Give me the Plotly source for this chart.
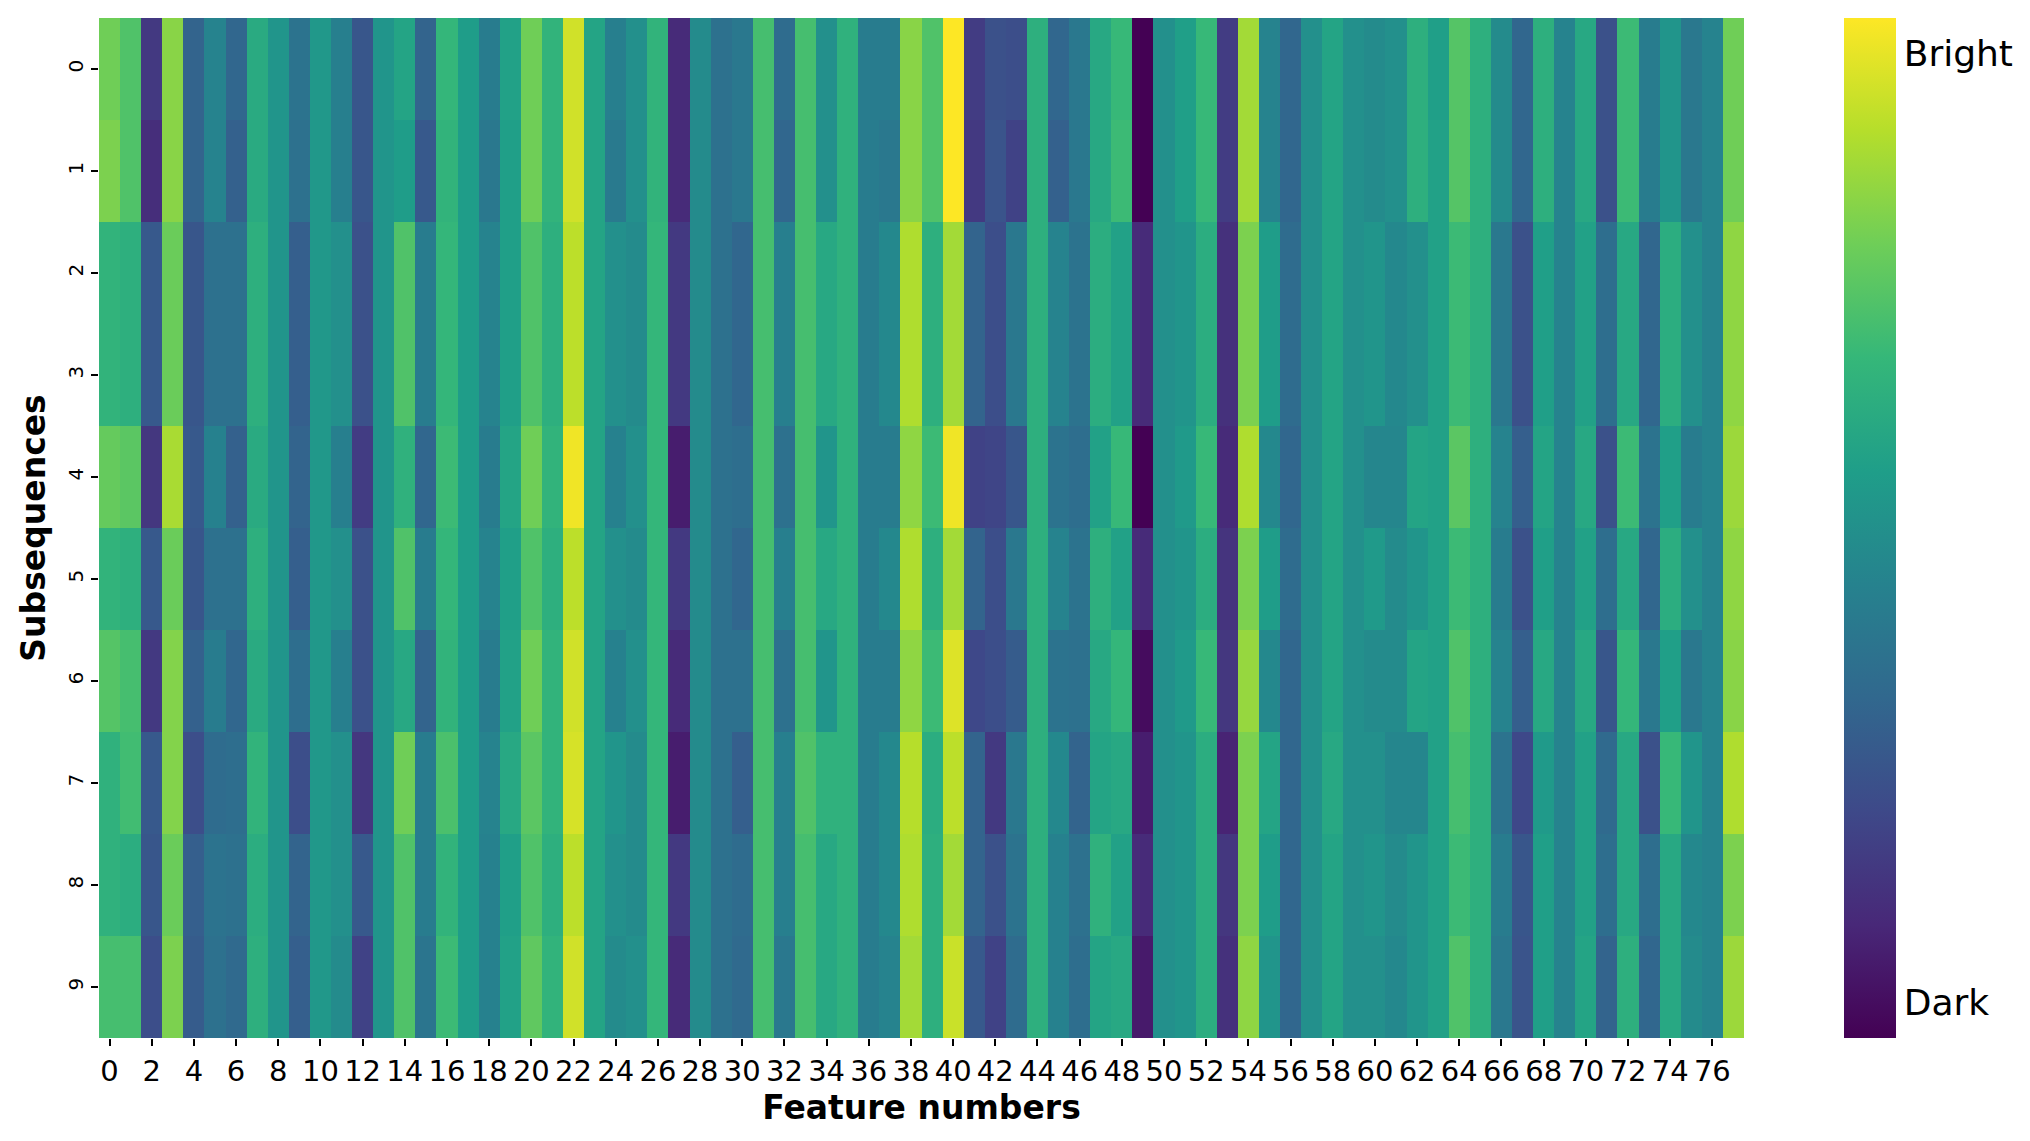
import plotly.graph_objects as go

features = list(range(78))
subsequences = list(range(10))

row_0 = [0.78,0.72,0.17,0.82,0.32,0.45,0.33,0.61,0.52,0.38,0.53,0.43,0.27,0.52,0.58,0.32,0.66,0.55,0.42,0.57,
         0.78,0.65,0.93,0.58,0.43,0.5,0.65,0.12,0.48,0.37,0.4,0.7,0.35,0.7,0.5,0.64,0.42,0.42,0.82,0.72,
         1.0,0.18,0.25,0.24,0.63,0.33,0.4,0.6,0.67,0.0,0.5,0.56,0.67,0.18,0.86,0.45,0.33,0.5,0.58,0.5,
         0.48,0.5,0.63,0.56,0.73,0.63,0.48,0.33,0.63,0.45,0.6,0.25,0.68,0.42,0.52,0.4,0.45,0.78]
row_1 = [0.8,0.72,0.13,0.82,0.32,0.45,0.31,0.61,0.52,0.37,0.53,0.43,0.27,0.52,0.55,0.28,0.65,0.55,0.40,0.56,
         0.78,0.65,0.93,0.58,0.41,0.5,0.65,0.12,0.48,0.37,0.4,0.7,0.33,0.7,0.5,0.64,0.42,0.40,0.82,0.72,
         1.0,0.17,0.26,0.2,0.63,0.31,0.4,0.6,0.68,0.0,0.5,0.56,0.67,0.18,0.86,0.45,0.33,0.5,0.58,0.5,
         0.48,0.5,0.63,0.57,0.73,0.63,0.48,0.33,0.63,0.45,0.6,0.25,0.68,0.42,0.52,0.4,0.45,0.78]
row_2 = [0.65,0.63,0.28,0.77,0.27,0.37,0.37,0.63,0.52,0.30,0.53,0.50,0.25,0.52,0.72,0.42,0.66,0.55,0.45,0.56,
         0.72,0.63,0.9,0.58,0.5,0.48,0.66,0.17,0.48,0.37,0.33,0.7,0.43,0.7,0.6,0.64,0.42,0.47,0.88,0.63,
         0.86,0.32,0.24,0.4,0.63,0.45,0.38,0.62,0.57,0.12,0.5,0.52,0.62,0.14,0.8,0.55,0.35,0.5,0.58,0.5,
         0.52,0.47,0.5,0.57,0.68,0.63,0.4,0.25,0.56,0.45,0.57,0.36,0.6,0.33,0.62,0.5,0.45,0.83]
row_3 = [0.65,0.63,0.28,0.77,0.27,0.37,0.37,0.63,0.52,0.30,0.53,0.50,0.25,0.52,0.72,0.42,0.66,0.55,0.45,0.56,
         0.72,0.63,0.9,0.58,0.5,0.48,0.66,0.17,0.48,0.37,0.33,0.7,0.43,0.7,0.6,0.64,0.42,0.47,0.88,0.63,
         0.86,0.32,0.24,0.4,0.63,0.45,0.38,0.62,0.57,0.12,0.5,0.52,0.62,0.14,0.8,0.55,0.35,0.5,0.58,0.5,
         0.52,0.47,0.5,0.57,0.68,0.63,0.4,0.25,0.56,0.45,0.57,0.36,0.6,0.33,0.62,0.5,0.45,0.83]
row_4 = [0.76,0.74,0.16,0.87,0.28,0.44,0.31,0.61,0.52,0.32,0.53,0.43,0.18,0.52,0.64,0.33,0.68,0.55,0.42,0.58,
         0.78,0.65,0.98,0.58,0.44,0.5,0.66,0.08,0.48,0.37,0.36,0.7,0.37,0.7,0.52,0.64,0.42,0.42,0.83,0.68,
         0.98,0.2,0.21,0.27,0.63,0.38,0.36,0.57,0.67,0.0,0.5,0.54,0.67,0.12,0.88,0.47,0.33,0.5,0.58,0.5,
         0.46,0.46,0.58,0.57,0.74,0.63,0.45,0.3,0.58,0.45,0.6,0.25,0.68,0.38,0.56,0.42,0.45,0.85]
row_5 = [0.65,0.63,0.28,0.77,0.27,0.37,0.37,0.63,0.52,0.30,0.53,0.50,0.25,0.52,0.72,0.42,0.66,0.55,0.45,0.56,
         0.72,0.63,0.9,0.58,0.5,0.48,0.66,0.17,0.48,0.37,0.33,0.7,0.43,0.7,0.6,0.64,0.42,0.47,0.88,0.63,
         0.86,0.32,0.24,0.4,0.63,0.45,0.38,0.63,0.57,0.12,0.5,0.52,0.62,0.15,0.8,0.55,0.35,0.5,0.58,0.5,
         0.54,0.48,0.52,0.57,0.68,0.63,0.42,0.25,0.56,0.45,0.57,0.36,0.6,0.33,0.62,0.5,0.45,0.83]
row_6 = [0.73,0.70,0.17,0.81,0.31,0.42,0.33,0.61,0.52,0.36,0.53,0.43,0.25,0.52,0.6,0.32,0.65,0.55,0.42,0.57,
         0.78,0.65,0.93,0.58,0.44,0.5,0.66,0.12,0.48,0.37,0.37,0.7,0.37,0.7,0.52,0.64,0.42,0.42,0.83,0.68,
         0.95,0.22,0.24,0.29,0.63,0.38,0.37,0.6,0.66,0.03,0.5,0.54,0.67,0.16,0.84,0.47,0.33,0.5,0.58,0.5,
         0.48,0.48,0.58,0.57,0.72,0.63,0.45,0.3,0.6,0.45,0.6,0.27,0.66,0.4,0.56,0.4,0.45,0.82]
row_7 = [0.64,0.69,0.28,0.81,0.24,0.35,0.36,0.65,0.52,0.24,0.53,0.50,0.16,0.52,0.78,0.42,0.71,0.55,0.45,0.6,
         0.74,0.65,0.94,0.58,0.52,0.48,0.66,0.08,0.48,0.37,0.3,0.7,0.43,0.72,0.64,0.64,0.42,0.47,0.89,0.62,
         0.9,0.32,0.17,0.4,0.63,0.47,0.32,0.58,0.6,0.08,0.5,0.52,0.62,0.1,0.8,0.58,0.33,0.5,0.6,0.5,
         0.5,0.46,0.46,0.57,0.7,0.63,0.38,0.22,0.54,0.45,0.57,0.34,0.6,0.25,0.67,0.52,0.45,0.88]
row_8 = [0.64,0.62,0.27,0.77,0.30,0.38,0.37,0.62,0.52,0.32,0.53,0.50,0.28,0.52,0.72,0.42,0.65,0.55,0.44,0.56,
         0.72,0.63,0.9,0.58,0.5,0.48,0.66,0.17,0.48,0.37,0.35,0.7,0.43,0.7,0.6,0.64,0.42,0.47,0.88,0.63,
         0.86,0.32,0.25,0.38,0.63,0.44,0.37,0.64,0.57,0.12,0.5,0.52,0.62,0.16,0.8,0.55,0.33,0.5,0.58,0.5,
         0.52,0.48,0.52,0.57,0.68,0.63,0.42,0.27,0.56,0.45,0.57,0.36,0.6,0.36,0.6,0.47,0.45,0.8]
row_9 = [0.70,0.70,0.24,0.8,0.29,0.37,0.34,0.63,0.52,0.30,0.53,0.48,0.2,0.52,0.72,0.39,0.68,0.55,0.44,0.57,
         0.75,0.65,0.93,0.58,0.48,0.5,0.66,0.12,0.48,0.37,0.34,0.7,0.4,0.7,0.6,0.64,0.42,0.45,0.86,0.63,
         0.92,0.28,0.2,0.35,0.63,0.44,0.36,0.58,0.6,0.07,0.5,0.52,0.62,0.14,0.83,0.52,0.33,0.5,0.58,0.5,
         0.5,0.47,0.52,0.57,0.72,0.63,0.4,0.26,0.56,0.45,0.58,0.32,0.63,0.33,0.6,0.48,0.45,0.85]

z = [row_0, row_1, row_2, row_3, row_4, row_5, row_6, row_7, row_8, row_9]
x_ticks = list(range(0, 78, 2))
cbar_labels = ["Dark", "Bright"]

FONT = "DejaVu Sans"
fig = go.Figure(go.Heatmap(
    z=z, x=features, y=subsequences, colorscale="Viridis", zmin=0, zmax=1,
    colorbar=dict(
        x=1.061, xanchor="left", y=0.5, yanchor="middle", len=1.0, lenmode="fraction",
        ypad=0, xpad=0,
        thickness=52, outlinewidth=0, ticks="", tickvals=[0.035, 0.965], ticktext=cbar_labels,
        tickfont=dict(family=FONT, size=36, color="black"),
    ),
))
fig.update_layout(
    width=2030, height=1141, paper_bgcolor="white", plot_bgcolor="white",
    margin=dict(l=91, r=294, t=10, b=111),
    font=dict(family=FONT, color="black"),
)
fig.update_xaxes(
    tickvals=x_ticks, ticktext=[str(v) for v in x_ticks], tickangle=0,
    ticks="outside", ticklen=7, tickwidth=2, tickcolor="black",
    tickfont=dict(family=FONT, size=29),
    title=dict(text="<b>Feature numbers</b>", font=dict(family=FONT, size=33), standoff=2),
    showgrid=False, zeroline=False, showline=False,
)
fig.update_yaxes(
    autorange="reversed", tickvals=subsequences, ticktext=[str(v) for v in subsequences], tickangle=-90,
    ticks="outside", ticklen=7, tickwidth=2, tickcolor="black",
    tickfont=dict(family=FONT, size=20),
    title=dict(text="<b>Subsequences</b>", font=dict(family=FONT, size=33), standoff=8),
    showgrid=False, zeroline=False, showline=False,
)
fig.write_html("out.html")
